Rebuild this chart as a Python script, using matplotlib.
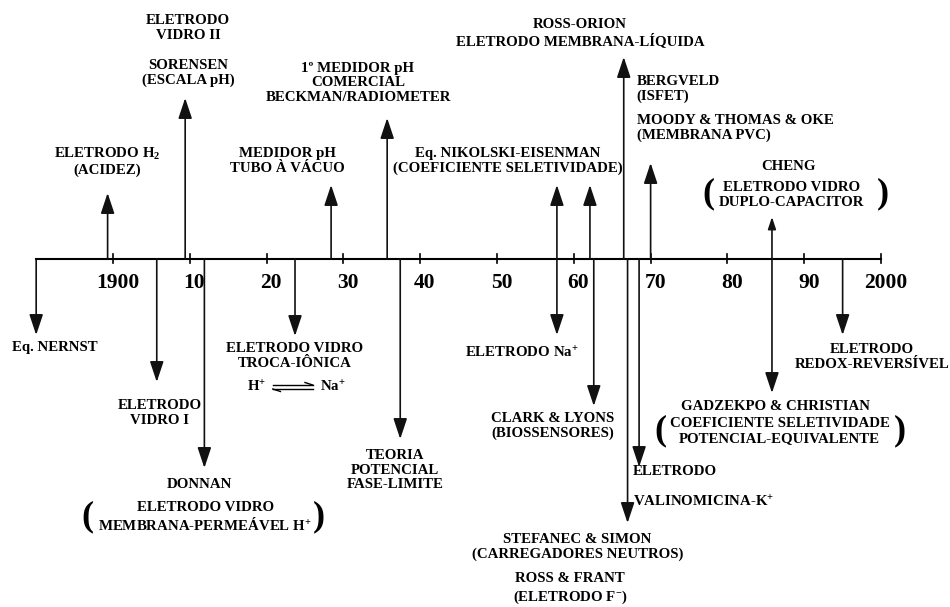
import matplotlib
matplotlib.use('Agg')
import matplotlib.pyplot as plt

plt.rcParams['font.family'] = ['Liberation Serif', 'DejaVu Serif']
plt.rcParams['font.weight'] = 'bold'
plt.rcParams['mathtext.fontset'] = 'custom'
plt.rcParams['mathtext.rm'] = 'Liberation Serif:bold'
plt.rcParams['mathtext.bf'] = 'Liberation Serif:bold'
plt.rcParams['mathtext.it'] = 'Liberation Serif:bold'
plt.rcParams['mathtext.default'] = 'bf'

# axis years and tick labels
tick_years = [1900, 1910, 1920, 1930, 1940, 1950, 1960, 1970, 1980, 1990, 2000]
tick_labels = ['1900', '10', '20', '30', '40', '50', '60', '70', '80', '90', '2000']
axis_start = 1890
axis_end = 2000

# events above the axis: year, arrow tip (px from top)
up_years = [1899.3, 1909.4, 1928.4, 1935.7, 1957.8, 1962.1, 1966.5, 1970.0, 1985.8]
up_tips = [193, 98, 185, 118, 185, 185, 57, 163, 217]

# events below the axis
down_years = [1890.0, 1905.7, 1911.9, 1923.7, 1937.4, 1957.8, 1962.6, 1967.0, 1968.5, 1985.8, 1995.0]
down_tips = [335, 382, 468, 336, 439, 335, 406, 523, 467, 393, 335]

# labels: text, x (year), y (px), horizontal alignment
labels = [
    ('ELETRODO\nVIDRO II', 1909.8, 28, 'center'),
    ('SORENSEN\n(ESCALA pH)', 1909.8, 73, 'center'),
    ('ELETRODO H$_2$\n(ACIDEZ)', 1899.2, 161, 'center'),
    ('MEDIDOR pH\nTUBO À VÁCUO', 1922.7, 161, 'center'),
    ('1º MEDIDOR pH\nCOMERCIAL\nBECKMAN/RADIOMETER', 1931.9, 83, 'center'),
    ('Eq. NIKOLSKI-EISENMAN\n(COEFICIENTE SELETIVIDADE)', 1951.4, 161, 'center'),
    ('ROSS-ORION\nELETRODO MEMBRANA-LÍQUIDA', 1960.8, 33, 'center'),
    ('BERGVELD\n(ISFET)', 1968.2, 89, 'left'),
    ('MOODY & THOMAS & OKE\n(MEMBRANA PVC)', 1968.2, 128, 'left'),
    ('CHENG', 1987.9, 167, 'center'),
    ('ELETRODO VIDRO\nDUPLO-CAPACITOR', 1988.4, 195, 'center'),
    ('Eq. NERNST', 1892.4, 348, 'center'),
    ('ELETRODO VIDRO\nTROCA-IÔNICA', 1923.7, 356, 'center'),
    ('ELETRODO\nVIDRO I', 1906.1, 413, 'center'),
    ('DONNAN', 1911.3, 484, 'center'),
    ('ELETRODO VIDRO\nMEMBRANA-PERMEÁVEL H$^{+}$', 1912.0, 517, 'center'),
    ('TEORIA\nPOTENCIAL\nFASE-LIMITE', 1936.7, 470, 'center'),
    ('ELETRODO Na$^{+}$', 1953.3, 353, 'center'),
    ('CLARK & LYONS\n(BIOSSENSORES)', 1957.2, 426, 'center'),
    ('ELETRODO\n\nVALINOMICINA-K$^{+}$', 1967.7, 487, 'left'),
    ('STEFANEC & SIMON\n(CARREGADORES NEUTROS)', 1960.5, 547, 'center'),
    ('ROSS & FRANT', 1959.5, 578, 'center'),
    ('(ELETRODO F$^{-}$)', 1959.5, 597, 'center'),
    ('GADZEKPO & CHRISTIAN', 1986.2, 406, 'center'),
    ('COEFICIENTE SELETIVIDADE\nPOTENCIAL-EQUIVALENTE', 1986.8, 431, 'center'),
    ('ELETRODO\nREDOX-REVERSÍVEL', 1998.8, 357, 'center'),
]

# big brackets around some labels: x (year), y (px), char
brackets = [
    (1977.5, 194, '('), (2000.3, 194, ')'),
    (1896.7, 517, '('), (1926.8, 517, ')'),
    (1971.3, 431, '('), (2002.4, 431, ')'),
]

axis_y = 259

fig = plt.figure(figsize=(9.5, 6.07), dpi=100)
ax = fig.add_axes([0, 0, 1, 1])
ax.set_xlim(1885.29, 2008.98)
ax.set_ylim(607, 0)
ax.axis('off')

# main axis and ticks
ax.plot([axis_start, axis_end], [axis_y, axis_y], color='black', lw=1.5)
for t, lab in zip(tick_years, tick_labels):
    ax.plot([t, t], [axis_y - 5, axis_y + 4], color='black', lw=1.2)
    ax.text(t + 0.6, 283, lab, ha='center', va='center', fontsize=15.5, fontweight='bold')

arrow_kw = dict(arrowstyle='-|>,head_length=0.9,head_width=0.3', color='#111111',
                lw=1.2, shrinkA=0, shrinkB=0, mutation_scale=14)

for yr, tip in zip(up_years, up_tips):
    style = dict(arrow_kw)
    if yr == 1985.8:
        style['mutation_scale'] = 8
    ax.annotate('', xy=(yr, tip), xytext=(yr, axis_y), arrowprops=style)

for yr, tip in zip(down_years, down_tips):
    ax.annotate('', xy=(yr, tip), xytext=(yr, axis_y), arrowprops=arrow_kw)

for txt, x, y, ha in labels:
    ax.text(x, y, txt, ha=ha, va='center', fontsize=10.7, fontweight='bold',
            linespacing=1.15, multialignment=ha)

for x, y, ch in brackets:
    ax.text(x, y, ch, ha='center', va='center', fontsize=26, fontweight='bold')

# H+ <=> Na+ equilibrium
ax.text(1918.75, 387, 'H$^{+}$', ha='center', va='center', fontsize=10.7, fontweight='bold')
ax.text(1928.6, 387, 'Na$^{+}$', ha='center', va='center', fontsize=10.7, fontweight='bold')
ax.plot([1920.8, 1926.0], [385, 385], color='black', lw=1.0)
ax.plot([1925.0, 1926.0], [382.5, 385], color='black', lw=1.0)
ax.plot([1920.8, 1926.0], [389, 389], color='black', lw=1.0)
ax.plot([1920.8, 1921.8], [389, 391.5], color='black', lw=1.0)

fig.savefig('out.png', dpi=100)
